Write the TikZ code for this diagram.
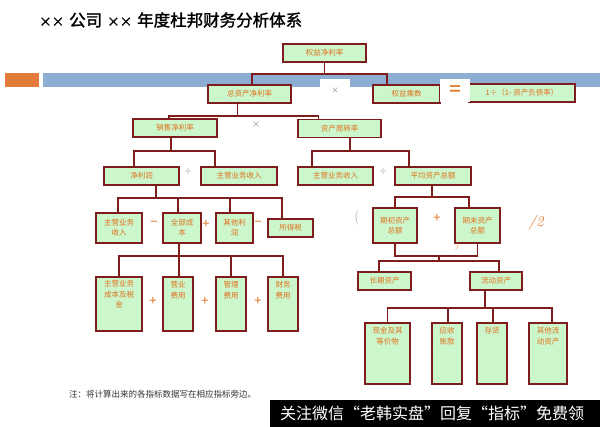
\documentclass[tikz,border=0pt]{standalone}
\usepackage{fontspec}
\newfontfamily\cjk{Noto Sans CJK SC}
\newfontfamily\cjkbold[FakeBold=1.6]{Noto Sans CJK SC}
\definecolor{boxred}{HTML}{7F1D1D}
\definecolor{boxgreen}{HTML}{CCF7CC}
\definecolor{txtorange}{HTML}{E0701C}
\definecolor{barblue}{HTML}{8DAED3}
\definecolor{barorange}{HTML}{E27B3A}
\definecolor{opgray}{HTML}{8A8A8A}
\tikzset{
  box/.style={draw=boxred, fill=boxgreen, line width=1.7pt, inner sep=0pt, align=center,
    text=txtorange, font=\cjk\fontsize{7.5}{10}\selectfont},
  boxtxt/.style={inner sep=0pt, align=center, text=txtorange, font=\cjk\fontsize{7.5}{10.5}\selectfont},
  conn/.style={draw=boxred, line width=1.7pt},
  gop/.style={text=opgray, inner sep=0pt, font=\cjk\fontsize{8}{8}\selectfont},
  oop/.style={text=txtorange, inner sep=0pt, font=\cjk\fontsize{13}{13}\selectfont},
}
\newcommand{\smallxx}{{\fontsize{12.5}{12.5}\selectfont ××}}
\begin{document}
\begin{tikzpicture}[x=1pt,y=-1pt]
\useasboundingbox (0,0) rectangle (600,427);
% title
\node[anchor=west, inner sep=0pt, font=\cjkbold\fontsize{16.5}{18}\selectfont] (title) at (39,20) {\smallxx\hspace{5pt}公司\hspace{5pt}\smallxx\hspace{5pt}年度杜邦财务分析体系};
% bars
\fill[barorange] (5,73) rectangle (39,87);
\fill[barblue] (43,73) rectangle (600,87);

% level 1-2
\node[box, minimum width=83pt, minimum height=18pt] (roe) at (324.5,53) {权益净利率};
\node[box, minimum width=83pt, minimum height=18pt] (roa) at (249.5,94) {总资产净利率};
\node[box, minimum width=67pt, minimum height=18pt] (em) at (406.5,94) {权益乘数};
\node[box, minimum width=106pt, minimum height=18pt] (emf) at (522,93) {1÷（1- 资产负债率）};
\node[gop, fill=white, minimum width=30pt, minimum height=23pt] (x1) at (335,90.5) {×};
\node[text=txtorange, fill=white, inner sep=0pt, minimum width=30pt, minimum height=23pt, font=\cjkbold\fontsize{20}{20}\selectfont] (eq) at (455,90.5) {=};

% level 3
\node[box, minimum width=84pt, minimum height=18pt] (npm) at (175,128) {销售净利率};
\node[box, minimum width=83pt, minimum height=18pt] (tat) at (339.5,128.5) {资产周转率};
\node[gop] (x2) at (256,125) {×};

% level 4
\node[box, minimum width=75pt, minimum height=18pt] (np) at (141.5,176) {净利润};
\node[box, minimum width=76pt, minimum height=18pt] (rev1) at (239,176) {主营业务收入};
\node[box, minimum width=75pt, minimum height=18pt] (rev2) at (335.5,176) {主营业务收入};
\node[box, minimum width=76pt, minimum height=18pt] (ta) at (433,176) {平均资产总额};
\node[gop] (d1) at (188,172) {÷};
\node[gop] (d2) at (383,172) {÷};

% level 5 left
\node[box, minimum width=46pt, minimum height=30pt] (rev3) at (119,228) {主营业务\\收入};
\node[box, minimum width=38pt, minimum height=30pt] (tc) at (182,228) {全部成\\本};
\node[box, minimum width=37pt, minimum height=30pt] (op) at (234.5,228) {其他利\\润};
\node[box, minimum width=45pt, minimum height=18pt] (tax) at (290.5,228) {所得税};
\node[oop] (m1) at (154,224) {−};
\node[oop] (p1) at (206,224) {+};
\node[oop] (m2) at (258,224) {−};

% level 6 left
\node[box, minimum width=46pt, minimum height=54pt] (cogs) at (119,304) {};
\node[box, minimum width=30pt, minimum height=54pt] (se) at (178,304) {};
\node[box, minimum width=30pt, minimum height=54pt] (ae) at (231,304) {};
\node[box, minimum width=30pt, minimum height=54pt] (fe) at (283,304) {};
\node[boxtxt, anchor=north] (cogst) at ([yshift=-4pt]cogs.north) {主营业务\\成本及税\\金};
\node[boxtxt, anchor=north] (set) at ([yshift=-5pt]se.north) {营业\\费用};
\node[boxtxt, anchor=north] (aet) at ([yshift=-5pt]ae.north) {管理\\费用};
\node[boxtxt, anchor=north] (fet) at ([yshift=-5pt]fe.north) {财务\\费用};
\node[oop] (p2) at (153,301) {+};
\node[oop] (p3) at (205,301) {+};
\node[oop] (p4) at (258,301) {+};

% level 5 right
\node[box, minimum width=44pt, minimum height=35pt] (bta) at (395,225.5) {期初资产\\总额};
\node[box, minimum width=45pt, minimum height=35pt] (eta) at (477.5,225.5) {期末资产\\总额};
\node[text=opgray!80, inner sep=0pt, font=\fontsize{15}{15}\selectfont] (lp) at (357,218) {(};
\node[oop] (p5) at (437,218) {+};
\node[text=txtorange, inner sep=0pt, font=\itshape\fontsize{15}{15}\selectfont] (half) at (536,223) {/2};
\node[text=txtorange, inner sep=0pt, font=\itshape\fontsize{8}{8}\selectfont] (rp) at (457,247) {)};

% level 6-7 right
\node[box, minimum width=53pt, minimum height=18pt] (lta) at (384.5,281) {长期资产};
\node[box, minimum width=52pt, minimum height=18pt] (ca) at (496,281) {流动资产};
\node[box, minimum width=45pt, minimum height=61pt] (cash) at (387.5,353.5) {};
\node[box, minimum width=30pt, minimum height=61pt] (ar) at (447,353.5) {};
\node[box, minimum width=30pt, minimum height=61pt] (inv) at (492,353.5) {};
\node[box, minimum width=38pt, minimum height=61pt] (oca) at (548,353.5) {};
\node[boxtxt, anchor=north] (casht) at ([yshift=-5pt]cash.north) {现金及其\\等价物};
\node[boxtxt, anchor=north] (art) at ([yshift=-5pt]ar.north) {应收\\账款};
\node[boxtxt, anchor=north] (invt) at ([yshift=-5pt]inv.north) {存货};
\node[boxtxt, anchor=north] (ocat) at ([yshift=-5pt]oca.north) {其他流\\动资产};

% connectors
\draw[conn] (roe.south) -- ++(0,11) coordinate (j1);
\draw[conn] ([xshift=2.5pt]roa.north) |- (j1) -| ([xshift=-19.5pt]em.north);

\draw[conn] ([xshift=-12pt]roa.south) -- ++(0,12) coordinate (j2);
\draw[conn] ([xshift=-6pt]npm.north) |- (j2) -| ([xshift=-21pt]tat.north);

\draw[conn] ([xshift=-4pt]npm.south) -- ++(0,13) coordinate (j3);
\draw[conn] ([xshift=-7.5pt]np.north) |- (j3) -| ([xshift=-24pt]rev1.north);

\draw[conn] ([xshift=10.5pt]tat.south) -- ++(0,12.5) coordinate (j4);
\draw[conn] ([xshift=-23.5pt]rev2.north) |- (j4) -| ([xshift=-24pt]ta.north);

\draw[conn] ([xshift=14.5pt]np.south) -- ++(0,12) coordinate (j5);
\draw[conn] ([xshift=-1pt]rev3.north) |- (j5) -| ([xshift=-8.5pt]tax.north);
\draw[conn] ([xshift=-4pt]tc.north) -- ([xshift=-4pt]tc.north |- j5);
\draw[conn] ([xshift=-4.5pt]op.north) -- ([xshift=-4.5pt]op.north |- j5);

\draw[conn] ([xshift=-3pt]tc.south) -- ++(0,12) coordinate (j6);
\draw[conn] (cogs.north) |- (j6) -| (fe.north);
\draw[conn] ([xshift=1pt]se.north) -- ([xshift=1pt]se.north |- j6);
\draw[conn] (ae.north) -- (ae.north |- j6);

\draw[conn] ([xshift=-1pt]ta.south) -- ++(0,11) coordinate (j7);
\draw[conn] (bta.north) |- (j7) -| ([xshift=-8.5pt]eta.north);

\draw[conn] (bta.south) -- ++(0,12) coordinate (j8) -| (eta.south);
\path (bta.south) ++(44,12) coordinate (j8m);
\draw[conn] (j8m) -- ++(0,5) coordinate (j9);
\draw[conn] ([xshift=-5.5pt]lta.north) |- (j9) -| ([xshift=3pt]ca.north);

\draw[conn] ([xshift=-11pt]ca.south) -- ++(0,17) coordinate (j10);
\draw[conn] (cash.north) |- (j10) -| ([xshift=4pt]oca.north);
\draw[conn] ([xshift=1pt]ar.north) -- ([xshift=1pt]ar.north |- j10);
\draw[conn] ([xshift=1pt]inv.north) -- ([xshift=1pt]inv.north |- j10);

% note
\node[anchor=west, inner sep=0pt, text=black!80, font=\cjk\fontsize{8.5}{9}\selectfont] (note) at (69,394) {注：将计算出来的各指标数据写在相应指标旁边。};

% watermark
\node[fill=black, anchor=north west, inner sep=0pt, minimum width=330pt, minimum height=27pt] (wm) at (270,400) {};
\node[text=white, inner sep=0pt, font=\cjk\fontsize{16}{16}\selectfont] (wmt) at (432,413.5) {关注微信“老韩实盘”回复“指标”免费领};
\end{tikzpicture}
\end{document}
